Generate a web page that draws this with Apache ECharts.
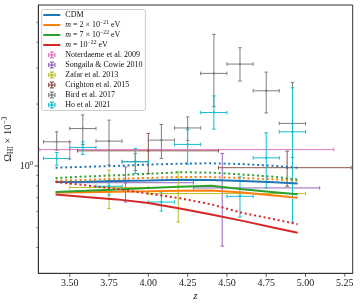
<!DOCTYPE html>
<html><head><meta charset="utf-8">
<script src="https://cdn.jsdelivr.net/npm/echarts@6/dist/echarts.min.js"></script>
<style>html,body{margin:0;padding:0;background:#fff}#c{width:360px;height:307px}</style>
</head><body><div id="c"></div>
<script>
// ---- data ----
const zModel = [3.41, 3.6, 3.8, 4.0, 4.2, 4.4, 4.6, 4.8, 4.95];
const cdmSolid = [0.835, 0.838, 0.843, 0.848, 0.855, 0.853, 0.845, 0.832, 0.82];
const cdmDotted = [0.98, 0.99, 1.0, 1.015, 1.025, 1.03, 1.02, 1.0, 0.98];
const m2e21Solid = [0.742, 0.745, 0.748, 0.752, 0.757, 0.758, 0.742, 0.718, 0.699];
const m2e21Dotted = [0.847, 0.855, 0.865, 0.874, 0.883, 0.882, 0.872, 0.86, 0.847];
const m7e22Solid = [0.746, 0.756, 0.768, 0.78, 0.792, 0.80, 0.77, 0.745, 0.727];
const m7e22Dotted = [0.873, 0.887, 0.9, 0.915, 0.932, 0.927, 0.908, 0.885, 0.858];
const m1e22Solid = [0.725, 0.706, 0.687, 0.66, 0.62, 0.58, 0.54, 0.50, 0.473];
const m1e22Dotted = [0.835, 0.805, 0.772, 0.733, 0.696, 0.65, 0.59, 0.55, 0.52];

// rows: [z, zLow, zHigh, omega, omegaLow, omegaHigh]
const noterdaeme2009 = [[3.5, 3.31, 5.18, 1.2, 1.078, 1.31]];
const songaila2010 = [[3.855, 3.5, 4.287, 0.828, 0.667, 0.989], [4.47, 4.287, 5.09, 0.781, 0.407, 1.15]];
const zafar2013 = [[3.75, 3.5, 4.0, 0.785, 0.62, 0.953], [4.19, 4.0, 5.0, 0.733, 0.533, 0.935]];
const crighton2015 = [[4.0, 3.55, 4.446, 1.184, 0.918, 1.439], [4.883, 4.446, 5.29, 0.98, 0.796, 1.18]];
const bird2017 = [
  [3.417, 3.333, 3.5, 1.31, 1.193, 1.465],
  [3.583, 3.5, 3.667, 1.52, 1.27, 1.77],
  [3.75, 3.667, 3.833, 1.32, 1.01, 1.67],
  [3.917, 3.833, 4.0, 1.05, 0.95, 1.15],
  [4.083, 4.0, 4.167, 1.335, 1.086, 1.59],
  [4.25, 4.167, 4.333, 1.53, 1.33, 1.73],
  [4.417, 4.333, 4.5, 2.82, 1.94, 4.37],
  [4.583, 4.5, 4.667, 3.13, 2.59, 3.76],
  [4.75, 4.667, 4.833, 2.32, 1.81, 2.86],
  [4.917, 4.833, 5.0, 1.61, 1.1, 2.55]
];
const ho2021 = [
  [3.417, 3.333, 3.5, 1.087, 1.008, 1.162],
  [3.583, 3.5, 3.667, 1.23, 1.137, 1.31],
  [3.75, 3.667, 3.833, 0.796, 0.72, 0.852],
  [3.917, 3.833, 4.0, 1.046, 0.918, 1.216],
  [4.083, 4.0, 4.167, 0.667, 0.603, 0.747],
  [4.25, 4.167, 4.333, 1.272, 1.02, 1.5],
  [4.417, 4.333, 4.5, 1.818, 1.51, 2.19],
  [4.583, 4.5, 4.667, 0.711, 0.564, 0.884],
  [4.75, 4.667, 4.833, 1.094, 0.781, 1.449],
  [4.917, 4.833, 5.0, 1.465, 0.533, 2.4]
];

const xTicks = [3.5, 3.75, 4.0, 4.25, 4.5, 4.75, 5.0, 5.25];
const yMajorTicks = [1];
const yMinorTicks = [0.4, 0.5, 0.6, 0.7, 0.8, 0.9, 2, 3, 4, 5];
const xMin = 3.3, xMax = 5.3, yMin = 0.3, yMax = 6.07;

const legendLabels = {
  'CDM': 'CDM',
  'm2e21': '{i|m} = 2 × 10{s|−21} eV',
  'm7e22': '{i|m} = 7 × 10{s|−22} eV',
  'm1e22': '{i|m} = 10{s|−22} eV',
  'Noterdaeme': 'Noterdaeme et al. 2009',
  'Songaila': 'Songaila & Cowie 2010',
  'Zafar': 'Zafar et al. 2013',
  'Crighton': 'Crighton et al. 2015',
  'Bird': 'Bird et al. 2017',
  'Ho': 'Ho et al. 2021'
};

// ---- chart ----
const FONT = 'Liberation Serif';
const C = {blue:'#1f77b4', orange:'#ff7f0e', green:'#2ca02c', red:'#d62728', purple:'#9467bd',
  brown:'#8c564b', pink:'#e377c2', gray:'#7f7f7f', olive:'#bcbd22', cyan:'#17becf'};

function lineSeries(name, vals, color, dotted) {
  return {
    name: name, type: 'line', symbol: 'none', showSymbol: false, silent: true,
    data: zModel.map((z, i) => [z, vals[i]]),
    lineStyle: {color: color, width: 2, type: dotted ? [2, 2.8] : 'solid'},
    itemStyle: {color: color}
  };
}

function errSeries(name, rows, color) {
  return {
    name: name, type: 'custom', silent: true,
    itemStyle: {color: color},
    encode: {x: 0, y: 1},
    data: rows.map(r => [r[0], r[3], r[1], r[2], r[4], r[5]]),
    renderItem: function (params, api) {
      const c = api.coord([api.value(0), api.value(1)]);
      const l = api.coord([api.value(2), api.value(1)]);
      const r = api.coord([api.value(3), api.value(1)]);
      const b = api.coord([api.value(0), api.value(4)]);
      const t = api.coord([api.value(0), api.value(5)]);
      const cap = 1.8;
      const st = {stroke: color, lineWidth: 1};
      const ln = (x1, y1, x2, y2) => ({type: 'line', shape: {x1, y1, x2, y2}, style: st});
      return {type: 'group', children: [
        ln(l[0], c[1], r[0], c[1]),
        ln(c[0], b[1], c[0], t[1]),
        ln(l[0], c[1] - cap, l[0], c[1] + cap),
        ln(r[0], c[1] - cap, r[0], c[1] + cap),
        ln(c[0] - cap, b[1], c[0] + cap, b[1]),
        ln(c[0] - cap, t[1], c[0] + cap, t[1]),
        {type: 'circle', shape: {cx: c[0], cy: c[1], r: 1.2}, style: {fill: color}}
      ]};
    }
  };
}

const errIcon = 'path://M0,0M170,70M48,29H122V41H48ZM79,0H91V70H79ZM48,14H60V56H48ZM110,14H122V56H110ZM64,0H106V12H64ZM64,58H106V70H64ZM74,24H96V46H74Z';
const lineIcon = 'path://M0,0M170,70M0,25H170V45H0Z';

const tickStyle = {color: '#333'};
const series = [
  lineSeries('CDM', cdmSolid, C.blue, false),
  lineSeries('CDM_d', cdmDotted, C.blue, true),
  lineSeries('m2e21', m2e21Solid, C.orange, false),
  lineSeries('m2e21_d', m2e21Dotted, C.orange, true),
  lineSeries('m7e22', m7e22Solid, C.green, false),
  lineSeries('m7e22_d', m7e22Dotted, C.green, true),
  lineSeries('m1e22', m1e22Solid, C.red, false),
  lineSeries('m1e22_d', m1e22Dotted, C.red, true),
  errSeries('Noterdaeme', noterdaeme2009, C.pink),
  errSeries('Songaila', songaila2010, C.purple),
  errSeries('Zafar', zafar2013, C.olive),
  errSeries('Crighton', crighton2015, C.brown),
  errSeries('Bird', bird2017, C.gray),
  errSeries('Ho', ho2021, C.cyan),
  {type: 'scatter', silent: true, clip: false, z: 5, symbol: 'rect', symbolSize: [1, 3.5], symbolOffset: [0, 1.75],
   itemStyle: tickStyle, data: xTicks.map(t => [t, yMin])},
  {type: 'scatter', silent: true, clip: false, z: 5, symbol: 'rect', symbolSize: [3.5, 1], symbolOffset: [-1.75, 0],
   itemStyle: tickStyle, data: yMajorTicks.map(v => [xMin, v])},
  {type: 'scatter', silent: true, clip: false, z: 5, symbol: 'rect', symbolSize: [2, 0.8], symbolOffset: [-1, 0],
   itemStyle: tickStyle, data: yMinorTicks.map(v => [xMin, v])}
];

const chart = echarts.init(document.getElementById('c'), null, {renderer: 'canvas'});
chart.setOption({
  animation: false,
  backgroundColor: '#fff',
  grid: {left: 38.3, right: 7.3, top: 5, bottom: 33.7, containLabel: false, outerBoundsMode: 'none',
    show: true, borderColor: '#333', borderWidth: 1, backgroundColor: 'transparent'},
  xAxis: {
    type: 'value', min: xMin, max: xMax, interval: 0.05,
    axisLine: {show: true, lineStyle: {color: '#333', width: 1}},
    axisTick: {show: false}, splitLine: {show: false},
    axisLabel: {
      margin: 4, fontFamily: FONT, fontSize: 10, lineHeight: 12, color: '#222',
      formatter: v => (Math.abs(v * 4 - Math.round(v * 4)) < 1e-6 && v > 3.4 && v < 5.28) ? v.toFixed(2) : ''
    },
    name: 'z', nameLocation: 'middle', nameGap: 16.5, nameMoveOverlap: false,
    nameTextStyle: {fontFamily: FONT, fontStyle: 'italic', fontSize: 11, lineHeight: 13, color: '#222'}
  },
  yAxis: {
    type: 'log', logBase: 10, min: yMin, max: yMax,
    axisLine: {show: true, lineStyle: {color: '#333', width: 1}},
    axisTick: {show: false}, splitLine: {show: false}, minorTick: {show: false},
    axisLabel: {
      margin: 5, color: '#222', fontFamily: FONT,
      formatter: v => Math.abs(v - 1) < 1e-9 ? '{a|10}{s|0}' : '',
      rich: {
        a: {fontFamily: FONT, fontSize: 10, lineHeight: 12, color: '#222'},
        s: {fontFamily: FONT, fontSize: 7, lineHeight: 7, padding: [0, 0, 5, 0], color: '#222'}
      }
    },
    name: '{o|Ω}{b|HI}{o| × 10}{p|−3}', nameLocation: 'middle', nameGap: 23, nameRotate: 90,
    nameMoveOverlap: false,
    nameTextStyle: {
      fontFamily: FONT, fontSize: 10.5, color: '#222',
      rich: {
        o: {fontFamily: FONT, fontSize: 10.5, lineHeight: 14, color: '#222'},
        b: {fontFamily: FONT, fontSize: 7.5, lineHeight: 8, padding: [6, 0, 0, 0], color: '#222'},
        p: {fontFamily: FONT, fontSize: 7.5, lineHeight: 8, padding: [0, 0, 6, 0], color: '#222'}
      }
    }
  },
  legend: {
    orient: 'vertical', left: 41.7, top: 9.5, padding: [0.5, 3, 0.5, 1.6], itemGap: 0,
    itemWidth: 17, itemHeight: 7, selectedMode: false,
    backgroundColor: 'rgba(255,255,255,0.8)', borderColor: '#cccccc', borderWidth: 1, borderRadius: 2,
    itemStyle: {borderWidth: 0},
    textStyle: {
      fontFamily: FONT, fontSize: 8, lineHeight: 10, color: '#111',
      rich: {
        i: {fontFamily: FONT, fontStyle: 'italic', fontSize: 8, lineHeight: 10, color: '#111'},
        s: {fontFamily: FONT, fontSize: 5.7, lineHeight: 6, padding: [0, 0, 4, 0], color: '#111'}
      }
    },
    formatter: name => legendLabels[name],
    data: [
      {name: 'CDM', icon: lineIcon}, {name: 'm2e21', icon: lineIcon},
      {name: 'm7e22', icon: lineIcon}, {name: 'm1e22', icon: lineIcon},
      {name: 'Noterdaeme', icon: errIcon}, {name: 'Songaila', icon: errIcon},
      {name: 'Zafar', icon: errIcon}, {name: 'Crighton', icon: errIcon},
      {name: 'Bird', icon: errIcon}, {name: 'Ho', icon: errIcon}
    ]
  },
  series: series
});
</script>
</body></html>
